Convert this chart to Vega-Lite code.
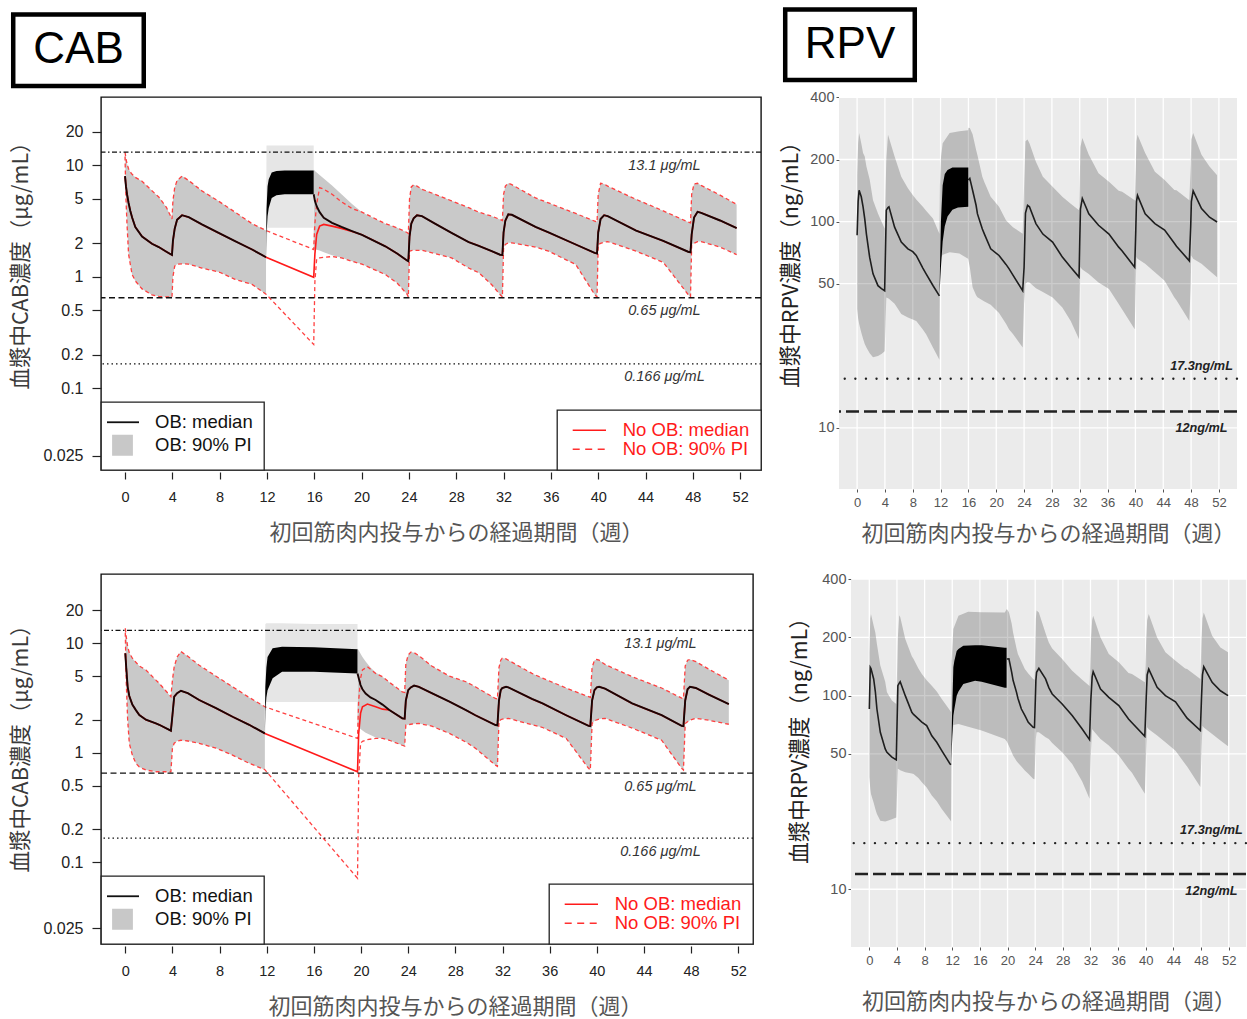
{
"$schema": "https://vega.github.io/schema/vega-lite/v6.json",
"background": "white",
"padding": {"left": 10, "top": 7, "right": 2, "bottom": 2},
"config": {"font": "Liberation Sans", "view": {"stroke": null}, "legend": {"strokeWidth": 1.3}, "axis": {"labelFont": "Liberation Sans", "titleFont": "Noto Sans CJK JP", "titleFontWeight": "normal", "labelOverlap": false}},
"datasets": {
"boxC": [{"t": "CAB"}],
"boxR": [{"t": "RPV"}],
"legA": [{"k": "OB: median"}, {"k": "OB: 90% PI"}],
"legB": [{"k": "No OB: median"}, {"k": "No OB: 90% PI"}],
"gx": [{"v":0},{"v":4},{"v":8},{"v":12},{"v":16},{"v":20},{"v":24},{"v":28},{"v":32},{"v":36},{"v":40},{"v":44},{"v":48},{"v":52}],
"gy": [{"v":10},{"v":50},{"v":100},{"v":200},{"v":400}],
"cabref": [{"v": 13.1, "t": "13.1 μg/mL", "k": "a"}, {"v": 0.65, "t": "0.65 μg/mL", "k": "b"}, {"v": 0.166, "t": "0.166 μg/mL", "k": "c"}],
"rpvref": [{"v": 17.3, "t": "17.3ng/mL", "k": "a"}, {"v": 12, "t": "12ng/mL", "k": "b"}],
"c1": [
{"w":0,"lo":12,"md":8.0,"hi":13.1,"g":"b","s":1},
{"w":0.08,"lo":5.0,"md":6.5,"hi":11.5,"g":"b","s":1},
{"w":0.17,"lo":2.95,"md":5.5,"hi":10.3,"g":"b","s":1},
{"w":0.3,"lo":1.6,"md":4.6,"hi":9.3,"g":"b","s":1},
{"w":0.45,"lo":1.29,"md":3.9,"hi":8.7,"g":"b","s":1},
{"w":0.6,"lo":1.05,"md":3.4,"hi":8.3,"g":"b","s":1},
{"w":0.87,"lo":0.92,"md":2.8,"hi":7.8,"g":"b","s":1},
{"w":1.44,"lo":0.78,"md":2.3,"hi":7.2,"g":"b","s":1},
{"w":2.28,"lo":0.69,"md":1.98,"hi":5.9,"g":"b","s":1},
{"w":2.85,"lo":0.67,"md":1.85,"hi":5.2,"g":"b","s":1},
{"w":3.5,"lo":0.66,"md":1.68,"hi":4.2,"g":"b","s":1},
{"w":3.97,"lo":0.66,"md":1.57,"hi":3.3,"g":"b","s":1},
{"w":4.05,"lo":1.0,"md":2.1,"hi":4.8,"g":"b","s":1},
{"w":4.2,"lo":1.25,"md":2.7,"hi":6.3,"g":"b","s":1},
{"w":4.4,"lo":1.3,"md":3.25,"hi":7.3,"g":"b","s":1},
{"w":4.82,"lo":1.31,"md":3.57,"hi":8.0,"g":"b","s":1},
{"w":5.38,"lo":1.3,"md":3.43,"hi":7.3,"g":"b","s":1},
{"w":6.5,"lo":1.2,"md":2.95,"hi":5.9,"g":"b","s":1},
{"w":8.0,"lo":1.1,"md":2.45,"hi":4.7,"g":"b","s":1},
{"w":9.3,"lo":0.95,"md":2.09,"hi":3.8,"g":"b","s":1},
{"w":10.74,"lo":0.855,"md":1.76,"hi":3.0,"g":"b","s":1},
{"w":11.92,"lo":0.7,"md":1.5,"hi":2.6,"g":"b","s":1},
{"w":15.95,"lo":0.248,"md":0.99,"hi":1.76,"g":"n","s":2},
{"w":16.05,"lo":0.9,"md":1.6,"hi":3.0,"g":"n","s":2},
{"w":16.2,"lo":1.45,"md":2.4,"hi":4.5,"g":"n","s":2},
{"w":16.45,"lo":1.48,"md":2.85,"hi":6.3,"g":"n","s":2},
{"w":16.8,"lo":1.5,"md":2.95,"hi":6.1,"g":"n","s":2},
{"w":17.5,"lo":1.52,"md":2.85,"hi":5.5,"g":"n","s":2},
{"w":18.3,"lo":1.48,"md":2.72,"hi":4.7,"g":"n","s":2},
{"w":19.19,"lo":1.38,"md":2.55,"hi":4.1,"g":"n","s":2},
{"w":15.95,"lo":1.8,"md":5.5,"hi":9.2,"g":"o","s":2},
{"w":16.05,"lo":1.78,"md":4.8,"hi":8.9,"g":"o","s":2},
{"w":16.2,"lo":1.75,"md":4.3,"hi":8.6,"g":"o","s":2},
{"w":16.45,"lo":1.72,"md":3.8,"hi":8.2,"g":"o","s":2},
{"w":16.8,"lo":1.66,"md":3.38,"hi":7.6,"g":"o","s":2},
{"w":17.5,"lo":1.56,"md":3.05,"hi":6.6,"g":"o","s":2},
{"w":18.3,"lo":1.48,"md":2.8,"hi":5.5,"g":"o","s":2},
{"w":19.19,"lo":1.38,"md":2.57,"hi":4.5,"g":"o","s":2},
{"w":20.03,"lo":1.3,"md":2.38,"hi":3.8,"g":"b","s":2},
{"w":22.0,"lo":1.05,"md":1.88,"hi":3.0,"g":"b","s":2},
{"w":23.0,"lo":0.88,"md":1.62,"hi":2.75,"g":"b","s":2},
{"w":23.84,"lo":0.7,"md":1.4,"hi":2.5,"g":"b","s":2},
{"w":23.95,"lo":0.66,"md":1.38,"hi":2.45,"g":"b","s":2},
{"w":24.05,"lo":1.7,"md":2.3,"hi":5.0,"g":"b","s":2},
{"w":24.2,"lo":1.72,"md":3.0,"hi":6.4,"g":"b","s":2},
{"w":24.4,"lo":1.73,"md":3.35,"hi":6.7,"g":"b","s":2},
{"w":24.68,"lo":1.73,"md":3.57,"hi":6.5,"g":"b","s":2},
{"w":25.1,"lo":1.73,"md":3.5,"hi":6.1,"g":"b","s":2},
{"w":26.2,"lo":1.62,"md":3.0,"hi":5.5,"g":"b","s":2},
{"w":27.6,"lo":1.48,"md":2.48,"hi":4.8,"g":"b","s":2},
{"w":29.05,"lo":1.2,"md":2.05,"hi":4.17,"g":"b","s":2},
{"w":29.9,"lo":1.09,"md":1.9,"hi":3.8,"g":"b","s":2},
{"w":31.0,"lo":0.85,"md":1.7,"hi":3.5,"g":"b","s":2},
{"w":31.7,"lo":0.695,"md":1.58,"hi":3.27,"g":"b","s":2},
{"w":31.9,"lo":0.66,"md":1.57,"hi":3.2,"g":"b","s":2},
{"w":32.0,"lo":1.82,"md":2.5,"hi":5.5,"g":"b","s":2},
{"w":32.15,"lo":1.95,"md":3.19,"hi":6.5,"g":"b","s":2},
{"w":32.4,"lo":2.02,"md":3.63,"hi":6.9,"g":"b","s":2},
{"w":32.7,"lo":2.02,"md":3.6,"hi":6.7,"g":"b","s":2},
{"w":34.7,"lo":1.85,"md":2.8,"hi":5.1,"g":"b","s":2},
{"w":35.8,"lo":1.7,"md":2.5,"hi":4.6,"g":"b","s":2},
{"w":38.1,"lo":1.29,"md":1.95,"hi":3.7,"g":"b","s":2},
{"w":39.7,"lo":0.695,"md":1.64,"hi":3.16,"g":"b","s":2},
{"w":39.9,"lo":0.66,"md":1.62,"hi":3.1,"g":"b","s":2},
{"w":40.0,"lo":1.92,"md":2.5,"hi":5.5,"g":"b","s":2},
{"w":40.2,"lo":2.0,"md":3.3,"hi":6.9,"g":"b","s":2},
{"w":40.5,"lo":2.05,"md":3.57,"hi":6.8,"g":"b","s":2},
{"w":40.8,"lo":2.07,"md":3.5,"hi":6.5,"g":"b","s":2},
{"w":43.2,"lo":1.7,"md":2.6,"hi":4.95,"g":"b","s":2},
{"w":45.5,"lo":1.35,"md":2.1,"hi":3.9,"g":"b","s":2},
{"w":47.6,"lo":0.695,"md":1.68,"hi":3.1,"g":"b","s":2},
{"w":47.8,"lo":0.66,"md":1.66,"hi":3.05,"g":"b","s":2},
{"w":47.9,"lo":1.95,"md":2.4,"hi":5.5,"g":"b","s":2},
{"w":48.1,"lo":2.0,"md":3.4,"hi":6.8,"g":"b","s":2},
{"w":48.4,"lo":2.07,"md":3.83,"hi":6.9,"g":"b","s":2},
{"w":48.7,"lo":2.07,"md":3.75,"hi":6.6,"g":"b","s":2},
{"w":50.3,"lo":1.85,"md":3.2,"hi":5.4,"g":"b","s":2},
{"w":51.7,"lo":1.58,"md":2.74,"hi":4.46,"g":"b","s":2}
],
"c1o": [
{"w":11.92,"blo":1.5,"bhi":1.5,"plo":1.5,"phi":1.6},
{"w":11.96,"blo":2.4,"bhi":4.0,"plo":1.6,"phi":15},
{"w":12.05,"blo":3.5,"bhi":6.5,"plo":2.75,"phi":15},
{"w":12.15,"blo":4.15,"bhi":7.5,"plo":2.75,"phi":15},
{"w":12.4,"blo":5.1,"bhi":8.6,"plo":2.75,"phi":15},
{"w":12.8,"blo":5.4,"bhi":8.9,"plo":2.75,"phi":15},
{"w":13.5,"blo":5.5,"bhi":9.0,"plo":2.75,"phi":15},
{"w":15.95,"blo":5.5,"bhi":9.0,"plo":2.75,"phi":15}
],
"c2": [
{"w":0,"lo":12.5,"md":8.1,"hi":13.7,"g":"b","s":1},
{"w":0.08,"lo":4.5,"md":6.0,"hi":11.5,"g":"b","s":1},
{"w":0.2,"lo":2.0,"md":4.0,"hi":9.3,"g":"b","s":1},
{"w":0.34,"lo":1.22,"md":3.3,"hi":8.2,"g":"b","s":1},
{"w":0.6,"lo":0.95,"md":2.75,"hi":7.3,"g":"b","s":1},
{"w":0.9,"lo":0.8,"md":2.45,"hi":6.7,"g":"b","s":1},
{"w":1.19,"lo":0.74,"md":2.21,"hi":6.2,"g":"b","s":1},
{"w":1.75,"lo":0.695,"md":2.0,"hi":5.7,"g":"b","s":1},
{"w":2.6,"lo":0.67,"md":1.85,"hi":4.6,"g":"b","s":1},
{"w":2.88,"lo":0.67,"md":1.8,"hi":4.3,"g":"b","s":1},
{"w":3.87,"lo":0.67,"md":1.59,"hi":3.25,"g":"b","s":1},
{"w":4.0,"lo":1.1,"md":2.2,"hi":4.6,"g":"b","s":1},
{"w":4.15,"lo":1.22,"md":3.25,"hi":6.1,"g":"b","s":1},
{"w":4.4,"lo":1.28,"md":3.5,"hi":7.5,"g":"b","s":1},
{"w":4.72,"lo":1.3,"md":3.68,"hi":8.4,"g":"b","s":1},
{"w":5.3,"lo":1.28,"md":3.5,"hi":7.6,"g":"b","s":1},
{"w":6.27,"lo":1.22,"md":3.03,"hi":6.3,"g":"b","s":1},
{"w":7.7,"lo":1.1,"md":2.55,"hi":5.0,"g":"b","s":1},
{"w":9.1,"lo":0.95,"md":2.13,"hi":4.0,"g":"b","s":1},
{"w":10.51,"lo":0.8,"md":1.8,"hi":3.2,"g":"b","s":1},
{"w":11.84,"lo":0.7,"md":1.5,"hi":2.63,"g":"b","s":1},
{"w":19.7,"lo":0.0713,"md":0.67,"hi":1.35,"g":"n","s":2},
{"w":19.8,"lo":0.6,"md":1.5,"hi":3.0,"g":"n","s":2},
{"w":19.96,"lo":1.22,"md":2.3,"hi":4.8,"g":"n","s":2},
{"w":20.12,"lo":1.27,"md":2.63,"hi":5.7,"g":"n","s":2},
{"w":20.54,"lo":1.32,"md":2.78,"hi":6.1,"g":"n","s":2},
{"w":21.24,"lo":1.35,"md":2.63,"hi":5.3,"g":"n","s":2},
{"w":21.82,"lo":1.35,"md":2.5,"hi":4.94,"g":"n","s":2},
{"w":19.7,"lo":1.75,"md":5.3,"hi":9.0,"g":"o","s":2},
{"w":19.96,"lo":1.65,"md":4.15,"hi":8.0,"g":"o","s":2},
{"w":20.12,"lo":1.6,"md":3.8,"hi":7.5,"g":"o","s":2},
{"w":20.39,"lo":1.52,"md":3.47,"hi":6.8,"g":"o","s":2},
{"w":20.8,"lo":1.45,"md":3.2,"hi":6.0,"g":"o","s":2},
{"w":21.24,"lo":1.38,"md":3.03,"hi":5.4,"g":"o","s":2},
{"w":21.82,"lo":1.35,"md":2.75,"hi":4.94,"g":"o","s":2},
{"w":22.4,"lo":1.3,"md":2.46,"hi":4.4,"g":"b","s":2},
{"w":23.5,"lo":1.17,"md":2.06,"hi":3.6,"g":"b","s":2},
{"w":23.7,"lo":1.15,"md":2.05,"hi":3.55,"g":"b","s":2},
{"w":23.8,"lo":1.79,"md":3.0,"hi":6.5,"g":"b","s":2},
{"w":24.0,"lo":1.8,"md":3.73,"hi":7.8,"g":"b","s":2},
{"w":24.22,"lo":1.82,"md":3.95,"hi":8.3,"g":"b","s":2},
{"w":24.5,"lo":1.84,"md":4.1,"hi":8.2,"g":"b","s":2},
{"w":24.9,"lo":1.85,"md":4.0,"hi":7.7,"g":"b","s":2},
{"w":26.0,"lo":1.75,"md":3.5,"hi":6.2,"g":"b","s":2},
{"w":27.5,"lo":1.5,"md":2.93,"hi":5.0,"g":"b","s":2},
{"w":28.9,"lo":1.25,"md":2.45,"hi":4.45,"g":"b","s":2},
{"w":29.7,"lo":1.1,"md":2.2,"hi":4.0,"g":"b","s":2},
{"w":31.4,"lo":0.77,"md":1.79,"hi":3.13,"g":"b","s":2},
{"w":31.57,"lo":0.75,"md":1.78,"hi":3.1,"g":"b","s":2},
{"w":31.7,"lo":1.92,"md":3.0,"hi":6.0,"g":"b","s":2},
{"w":31.85,"lo":2.0,"md":3.73,"hi":7.0,"g":"b","s":2},
{"w":31.98,"lo":2.03,"md":3.9,"hi":7.3,"g":"b","s":2},
{"w":32.3,"lo":2.05,"md":4.0,"hi":7.2,"g":"b","s":2},
{"w":32.5,"lo":2.06,"md":3.95,"hi":7.0,"g":"b","s":2},
{"w":34.5,"lo":1.8,"md":3.1,"hi":5.3,"g":"b","s":2},
{"w":35.4,"lo":1.7,"md":2.82,"hi":4.8,"g":"b","s":2},
{"w":37.4,"lo":1.35,"md":2.2,"hi":3.9,"g":"b","s":2},
{"w":39.3,"lo":0.72,"md":1.76,"hi":3.25,"g":"b","s":2},
{"w":39.45,"lo":0.695,"md":1.75,"hi":3.2,"g":"b","s":2},
{"w":39.6,"lo":1.85,"md":3.0,"hi":6.0,"g":"b","s":2},
{"w":39.8,"lo":1.95,"md":3.73,"hi":7.0,"g":"b","s":2},
{"w":40.0,"lo":2.0,"md":3.95,"hi":7.1,"g":"b","s":2},
{"w":40.2,"lo":2.03,"md":4.0,"hi":7.0,"g":"b","s":2},
{"w":40.7,"lo":2.06,"md":3.85,"hi":6.4,"g":"b","s":2},
{"w":43.0,"lo":1.68,"md":2.82,"hi":4.95,"g":"b","s":2},
{"w":45.5,"lo":1.3,"md":2.2,"hi":3.9,"g":"b","s":2},
{"w":47.2,"lo":0.72,"md":1.76,"hi":3.15,"g":"b","s":2},
{"w":47.35,"lo":0.695,"md":1.75,"hi":3.13,"g":"b","s":2},
{"w":47.5,"lo":1.85,"md":3.0,"hi":6.2,"g":"b","s":2},
{"w":47.7,"lo":1.92,"md":3.8,"hi":7.0,"g":"b","s":2},
{"w":47.9,"lo":1.98,"md":4.0,"hi":7.1,"g":"b","s":2},
{"w":48.4,"lo":2.06,"md":3.9,"hi":6.8,"g":"b","s":2},
{"w":49.5,"lo":1.98,"md":3.4,"hi":5.8,"g":"b","s":2},
{"w":51.2,"lo":1.82,"md":2.78,"hi":4.6,"g":"b","s":2}
],
"c2o": [
{"w":11.84,"blo":1.5,"bhi":1.5,"plo":1.5,"phi":1.6},
{"w":11.88,"blo":2.4,"bhi":4.0,"plo":1.6,"phi":15},
{"w":11.97,"blo":3.2,"bhi":6.0,"plo":2.9,"phi":15.2},
{"w":12.07,"blo":3.73,"bhi":7.5,"plo":2.9,"phi":15.2},
{"w":12.5,"blo":4.8,"bhi":9.0,"plo":2.9,"phi":15.2},
{"w":13.3,"blo":5.5,"bhi":9.3,"plo":2.9,"phi":15.2},
{"w":16.0,"blo":5.5,"bhi":9.2,"plo":2.9,"phi":15},
{"w":19.7,"blo":5.3,"bhi":8.8,"plo":2.9,"phi":15}
],
"r1": [
{"w":0.0,"lo":37.8,"md":85.8,"hi":168,"s":1},
{"w":0.15,"lo":34,"md":125,"hi":240,"s":1},
{"w":0.29,"lo":32,"md":142,"hi":269,"s":1},
{"w":0.6,"lo":29,"md":132,"hi":240,"s":1},
{"w":0.86,"lo":27,"md":118,"hi":215,"s":1},
{"w":1.1,"lo":25.5,"md":103,"hi":207,"s":1},
{"w":1.34,"lo":24.5,"md":87,"hi":185,"s":1},
{"w":1.81,"lo":23,"md":67,"hi":160,"s":1},
{"w":2.29,"lo":22,"md":55.8,"hi":127,"s":1},
{"w":3.0,"lo":22.3,"md":48.9,"hi":109.4,"s":1},
{"w":3.5,"lo":22.8,"md":47.3,"hi":100,"s":1},
{"w":3.96,"lo":23.5,"md":46.2,"hi":92.5,"s":1},
{"w":4.2,"lo":42.8,"md":113.6,"hi":200,"s":1},
{"w":4.44,"lo":42.5,"md":117,"hi":264,"s":1},
{"w":4.58,"lo":42.2,"md":118,"hi":255,"s":1},
{"w":5.39,"lo":40,"md":94,"hi":207,"s":1},
{"w":6.35,"lo":35.6,"md":79.5,"hi":165,"s":1},
{"w":7.3,"lo":34.3,"md":73.7,"hi":145,"s":1},
{"w":8.0,"lo":33.5,"md":71.5,"hi":134.6,"s":1},
{"w":8.5,"lo":33,"md":68.5,"hi":128,"s":1},
{"w":9.45,"lo":30,"md":59.5,"hi":118,"s":1},
{"w":9.92,"lo":28.4,"md":55.8,"hi":113,"s":1},
{"w":10.9,"lo":24.5,"md":49,"hi":103.4,"s":1},
{"w":11.83,"lo":21.4,"md":43.6,"hi":87.4,"s":1},
{"w":11.9,"lo":60,"hi":150,"s":0},
{"w":12.07,"lo":67.3,"hi":207,"s":0},
{"w":12.3,"lo":69,"hi":240,"s":0},
{"w":13.3,"lo":71,"hi":269,"s":0},
{"w":14.7,"lo":70,"hi":274,"s":0},
{"w":15.95,"lo":66,"hi":277,"s":0},
{"w":16.0,"lo":65,"md":159,"hi":285,"s":2},
{"w":16.2,"lo":60,"md":162,"hi":284,"s":2},
{"w":16.6,"lo":48,"md":142,"hi":265,"s":2},
{"w":17.1,"lo":44,"md":120,"hi":223,"s":2},
{"w":17.3,"lo":43,"md":109,"hi":210,"s":2},
{"w":18.0,"lo":41.5,"md":92,"hi":165,"s":2},
{"w":18.3,"lo":41,"md":87,"hi":155,"s":2},
{"w":19.2,"lo":39.5,"md":73.8,"hi":132,"s":2},
{"w":20.4,"lo":36,"md":68.5,"hi":118,"s":2},
{"w":21.4,"lo":32,"md":62,"hi":101.5,"s":2},
{"w":21.85,"lo":30,"md":59,"hi":98,"s":2},
{"w":22.4,"lo":28.5,"md":55,"hi":94,"s":2},
{"w":23.8,"lo":24.5,"md":46.2,"hi":87.4,"s":2},
{"w":24.0,"lo":40,"md":60,"hi":150,"s":2},
{"w":24.2,"lo":50,"md":110,"hi":245,"s":2},
{"w":24.5,"lo":51,"md":120,"hi":250,"s":2},
{"w":24.77,"lo":50.7,"md":118,"hi":240,"s":2},
{"w":25.7,"lo":47.5,"md":97.8,"hi":195,"s":2},
{"w":26.7,"lo":45.5,"md":87,"hi":165,"s":2},
{"w":28.1,"lo":42.9,"md":79.5,"hi":147.6,"s":2},
{"w":29.5,"lo":38.3,"md":67.3,"hi":132,"s":2},
{"w":30.7,"lo":33,"md":60,"hi":122,"s":2},
{"w":31.9,"lo":26.9,"md":53.8,"hi":113.6,"s":2},
{"w":32.0,"lo":40,"md":80,"hi":160,"s":2},
{"w":32.1,"lo":60,"md":115,"hi":230,"s":2},
{"w":32.37,"lo":58.5,"md":129.5,"hi":254,"s":2},
{"w":33.3,"lo":55.7,"md":109,"hi":211,"s":2},
{"w":34.7,"lo":50.7,"md":96,"hi":171.5,"s":2},
{"w":36.2,"lo":47.1,"md":87,"hi":156,"s":2},
{"w":37.6,"lo":39.8,"md":75.2,"hi":141,"s":2},
{"w":38.1,"lo":37.5,"md":72,"hi":139.6,"s":2},
{"w":39.9,"lo":30.1,"md":60,"hi":127,"s":2},
{"w":40.05,"lo":50,"md":90,"hi":180,"s":2},
{"w":40.15,"lo":67.3,"md":125,"hi":245,"s":2},
{"w":40.3,"lo":66,"md":134,"hi":264,"s":2},
{"w":41.4,"lo":62.4,"md":109,"hi":215,"s":2},
{"w":42.8,"lo":56.8,"md":97.8,"hi":174.7,"s":2},
{"w":44.2,"lo":51.7,"md":91,"hi":159,"s":2},
{"w":45.6,"lo":42.9,"md":78.5,"hi":142.5,"s":2},
{"w":45.9,"lo":41.5,"md":76,"hi":142,"s":2},
{"w":47.75,"lo":33,"md":64.5,"hi":127,"s":2},
{"w":47.95,"lo":50,"md":95,"hi":190,"s":2},
{"w":48.04,"lo":68.5,"md":125,"hi":250,"s":2},
{"w":48.3,"lo":66,"md":141,"hi":269,"s":2},
{"w":49.5,"lo":62.4,"md":115.7,"hi":211,"s":2},
{"w":50.65,"lo":57.8,"md":105,"hi":185,"s":2},
{"w":51.74,"lo":53.7,"md":99.6,"hi":168,"s":2}
],
"r1o": [
{"w":11.83,"blo":43.6,"bhi":43.6},
{"w":11.95,"blo":52,"bhi":70},
{"w":12.05,"blo":60,"bhi":100},
{"w":12.3,"blo":80,"bhi":150},
{"w":12.6,"blo":95,"bhi":170},
{"w":13.0,"blo":106,"bhi":178},
{"w":13.7,"blo":114,"bhi":183},
{"w":14.5,"blo":117,"bhi":183},
{"w":15.98,"blo":118,"bhi":183}
],
"r2": [
{"w":0.0,"lo":38,"md":85.3,"hi":167,"s":1},
{"w":0.14,"lo":33,"md":140,"hi":250,"s":1},
{"w":0.24,"lo":31,"md":138,"hi":264,"s":1},
{"w":0.63,"lo":28,"md":122,"hi":230,"s":1},
{"w":0.87,"lo":26,"md":105,"hi":212,"s":1},
{"w":1.1,"lo":24.5,"md":85.3,"hi":185,"s":1},
{"w":1.59,"lo":22.6,"md":64.7,"hi":143,"s":1},
{"w":2.3,"lo":22.4,"md":53.1,"hi":118,"s":1},
{"w":2.55,"lo":22.5,"md":51,"hi":104,"s":1},
{"w":3.27,"lo":23,"md":48.1,"hi":94.3,"s":1},
{"w":3.9,"lo":23.5,"md":46.6,"hi":90.6,"s":1},
{"w":4.13,"lo":41.9,"md":112.6,"hi":200,"s":1},
{"w":4.33,"lo":41.5,"md":116,"hi":260,"s":1},
{"w":4.47,"lo":41.2,"md":118,"hi":255,"s":1},
{"w":5.2,"lo":40.2,"md":100,"hi":196,"s":1},
{"w":6.15,"lo":39.6,"md":82,"hi":160,"s":1},
{"w":6.4,"lo":39.4,"md":80,"hi":154.6,"s":1},
{"w":7.1,"lo":37.5,"md":75.8,"hi":138,"s":1},
{"w":7.6,"lo":35.7,"md":73,"hi":129.3,"s":1},
{"w":8.3,"lo":33.5,"md":70,"hi":120,"s":1},
{"w":9.04,"lo":30.5,"md":62,"hi":112.6,"s":1},
{"w":9.76,"lo":28.5,"md":57.4,"hi":105,"s":1},
{"w":10.48,"lo":26,"md":52,"hi":96.1,"s":1},
{"w":11.68,"lo":22.8,"md":44.4,"hi":83.7,"s":1},
{"w":11.83,"lo":22.4,"md":44,"hi":82,"s":1},
{"w":11.9,"lo":60,"hi":150,"s":0},
{"w":12.16,"lo":70.5,"hi":221,"s":0},
{"w":12.9,"lo":71.4,"hi":259,"s":0},
{"w":14.3,"lo":69,"hi":271,"s":0},
{"w":16.25,"lo":66,"hi":270,"s":0},
{"w":19.6,"lo":59.7,"hi":269,"s":0},
{"w":19.9,"lo":58,"md":154.6,"hi":280,"s":2},
{"w":20.2,"lo":55,"md":155,"hi":270,"s":2},
{"w":20.6,"lo":51,"md":132,"hi":235,"s":2},
{"w":20.8,"lo":49,"md":120,"hi":212,"s":2},
{"w":21.3,"lo":46,"md":104,"hi":175,"s":2},
{"w":21.5,"lo":45,"md":97,"hi":164,"s":2},
{"w":22.0,"lo":43,"md":85.3,"hi":150,"s":2},
{"w":22.5,"lo":41,"md":79,"hi":137.4,"s":2},
{"w":23.0,"lo":39.5,"md":72.8,"hi":130,"s":2},
{"w":23.7,"lo":37.2,"md":68.7,"hi":122,"s":2},
{"w":23.9,"lo":37,"md":68.5,"hi":121,"s":2},
{"w":24.1,"lo":60,"md":120,"hi":250,"s":2},
{"w":24.2,"lo":64.7,"md":132,"hi":275,"s":2},
{"w":24.53,"lo":64.7,"md":138.4,"hi":269,"s":2},
{"w":25.5,"lo":61,"md":122,"hi":210,"s":2},
{"w":25.97,"lo":59.7,"md":110,"hi":188,"s":2},
{"w":26.46,"lo":57,"md":102,"hi":175,"s":2},
{"w":27.9,"lo":51,"md":90.6,"hi":154.6,"s":2},
{"w":29.35,"lo":44.4,"md":78.9,"hi":134.6,"s":2},
{"w":30.8,"lo":36,"md":67.3,"hi":121,"s":2},
{"w":31.86,"lo":29.3,"md":59.3,"hi":112,"s":2},
{"w":32.05,"lo":50,"md":95,"hi":190,"s":2},
{"w":32.24,"lo":67.3,"md":125,"hi":245,"s":2},
{"w":32.39,"lo":66,"md":133,"hi":259,"s":2},
{"w":33.45,"lo":59.7,"md":108.2,"hi":200,"s":2},
{"w":34.65,"lo":55.2,"md":98,"hi":164,"s":2},
{"w":36.1,"lo":49,"md":88.8,"hi":148.6,"s":2},
{"w":37.5,"lo":41.9,"md":75.8,"hi":131,"s":2},
{"w":38.0,"lo":40,"md":72.5,"hi":129.3,"s":2},
{"w":39.86,"lo":31.1,"md":61.7,"hi":117.2,"s":2},
{"w":40.05,"lo":50,"md":95,"hi":190,"s":2},
{"w":40.2,"lo":68.7,"md":128,"hi":245,"s":2},
{"w":40.43,"lo":67,"md":137,"hi":264,"s":2},
{"w":41.64,"lo":62.2,"md":110.4,"hi":200,"s":2},
{"w":42.84,"lo":57.4,"md":100,"hi":167.4,"s":2},
{"w":44.3,"lo":52,"md":93,"hi":151.6,"s":2},
{"w":45.7,"lo":44.4,"md":78.9,"hi":138,"s":2},
{"w":45.98,"lo":43,"md":76.5,"hi":137.4,"s":2},
{"w":47.9,"lo":33.7,"md":66,"hi":122,"s":2},
{"w":48.05,"lo":50,"md":95,"hi":190,"s":2},
{"w":48.2,"lo":70,"md":128,"hi":250,"s":2},
{"w":48.39,"lo":68.5,"md":141,"hi":269,"s":2},
{"w":49.6,"lo":63.4,"md":117.2,"hi":204,"s":2},
{"w":50.8,"lo":58.6,"md":106,"hi":177.4,"s":2},
{"w":51.9,"lo":54.8,"md":100,"hi":167.4,"s":2}
],
"r2o": [
{"w":11.83,"blo":44,"bhi":44},
{"w":11.95,"blo":55,"bhi":75},
{"w":12.16,"blo":78.9,"bhi":140},
{"w":12.3,"blo":85,"bhi":151},
{"w":12.64,"blo":100,"bhi":170},
{"w":12.9,"blo":105,"bhi":174},
{"w":13.6,"blo":115,"bhi":181},
{"w":15.3,"blo":119.5,"bhi":182},
{"w":16.25,"blo":118,"bhi":182},
{"w":19.6,"blo":110,"bhi":177},
{"w":19.86,"blo":110,"bhi":177}
]
},
"resolve": {"scale": {"fill": "independent", "stroke": "independent", "shape": "independent", "strokeDash": "independent"}, "legend": {"fill": "independent", "stroke": "independent", "shape": "independent", "strokeDash": "independent"}},
"spacing": 26,
"vconcat": [
{"hconcat": [
  {"width": 660, "height": 373, "view": {"stroke": "#111", "strokeWidth": 1.4, "fill": "white"},
   "resolve": {"scale": {"fill": "independent", "stroke": "independent", "shape": "independent", "strokeDash": "independent"}, "legend": {"fill": "independent", "stroke": "independent", "shape": "independent", "strokeDash": "independent"}},
   "layer": [
    {"data": {"name": "c1"}, "transform": [{"filter": "datum.g != 'n'"}], "mark": {"type": "area", "color": "#c9c9c9", "clip": true},
     "encoding": {
      "x": {"field": "w", "type": "quantitative", "scale": {"domain": [-2.03, 53.76], "nice": false, "zero": false},
        "axis": {"values": [0,4,8,12,16,20,24,28,32,36,40,44,48,52], "tickCount": 20, "title": "初回筋肉内投与からの経過期間（週）", "domain": false, "grid": false, "tickColor": "#222", "tickSize": 7, "tickWidth": 1.2, "offset": 2, "labelFontSize": 14.5, "labelColor": "#222", "labelPadding": 11, "labelOverlap": false, "titleFontSize": 22, "titleColor": "#555", "titlePadding": 19, "titleX": 355}},
      "y": {"field": "lo", "type": "quantitative", "scale": {"type": "log", "domain": [0.0186, 40.9], "nice": false},
        "axis": {"values": [0.025,0.1,0.2,0.5,1,2,5,10,20], "format": "~g", "title": "血漿中CAB濃度（μg/mL）", "domain": false, "grid": false, "tickColor": "#222", "tickSize": 9, "tickWidth": 1.2, "labelFontSize": 16, "labelColor": "#222", "labelPadding": 9, "titleFontSize": 21.5, "titleColor": "#3a3a3a", "titlePadding": 10, "titleY": 163}},
      "y2": {"field": "hi"},
      "detail": {"field": "s", "type": "nominal"}}},
    {"data": {"name": "c1o"}, "mark": {"type": "area", "color": "#e6e6e6"}, "encoding": {"x": {"field": "w", "type": "quantitative"}, "y": {"field": "plo", "type": "quantitative"}, "y2": {"field": "phi"}}},
    {"data": {"name": "c1"}, "transform": [{"filter": "datum.g != 'o'"}], "mark": {"type": "line", "color": "#ff4040", "strokeDash": [4, 3], "strokeWidth": 1.3, "clip": true}, "encoding": {"x": {"field": "w", "type": "quantitative"}, "y": {"field": "lo", "type": "quantitative"}}},
    {"data": {"name": "c1"}, "transform": [{"filter": "datum.g != 'o'"}], "mark": {"type": "line", "color": "#ff4040", "strokeDash": [4, 3], "strokeWidth": 1.3, "clip": true}, "encoding": {"x": {"field": "w", "type": "quantitative"}, "y": {"field": "hi", "type": "quantitative"}}},
    {"data": {"name": "c1"}, "transform": [{"filter": "datum.g != 'o'"}], "mark": {"type": "line", "color": "#ff1a1a", "strokeWidth": 1.6}, "encoding": {"x": {"field": "w", "type": "quantitative"}, "y": {"field": "md", "type": "quantitative"}}},
    {"data": {"name": "c1"}, "transform": [{"filter": "datum.g != 'n'"}], "mark": {"type": "line", "color": "#1a0505", "strokeWidth": 1.9}, "encoding": {"x": {"field": "w", "type": "quantitative"}, "y": {"field": "md", "type": "quantitative"}, "detail": {"field": "s", "type": "nominal"}}},
    {"data": {"name": "c1o"}, "mark": {"type": "area", "color": "black"}, "encoding": {"x": {"field": "w", "type": "quantitative"}, "y": {"field": "blo", "type": "quantitative"}, "y2": {"field": "bhi"}}},
    {"data": {"name": "cabref"}, "transform": [{"filter": "datum.k == 'a'"}], "mark": {"type": "rule", "color": "#111", "strokeWidth": 1.3, "strokeDash": [5, 2.5, 1.5, 2.5]}, "encoding": {"y": {"field": "v", "type": "quantitative"}}},
    {"data": {"name": "cabref"}, "transform": [{"filter": "datum.k == 'b'"}], "mark": {"type": "rule", "color": "#111", "strokeWidth": 1.3, "strokeDash": [6, 3.5]}, "encoding": {"y": {"field": "v", "type": "quantitative"}}},
    {"data": {"name": "cabref"}, "transform": [{"filter": "datum.k == 'c'"}], "mark": {"type": "rule", "color": "#111", "strokeWidth": 1.3, "strokeDash": [1.5, 3]}, "encoding": {"y": {"field": "v", "type": "quantitative"}}},
    {"data": {"name": "cabref"}, "mark": {"type": "text", "dy": 13.5, "fontStyle": "italic", "fontSize": 14.5, "color": "#333", "font": "Liberation Sans"}, "encoding": {"x": {"datum": 45.6, "type": "quantitative"}, "y": {"field": "v", "type": "quantitative"}, "text": {"field": "t"}}},
    {"data": {"name": "boxC"}, "mark": {"type": "rect", "filled": false, "stroke": "black", "strokeWidth": 4.5}, "encoding": {"x": {"datum": -9.45, "type": "quantitative"}, "x2": {"datum": 1.584}, "y": {"datum": 224, "type": "quantitative"}, "y2": {"datum": 51.3}}},
    {"data": {"name": "boxC"}, "mark": {"type": "text", "fontSize": 44, "font": "Liberation Sans", "color": "black"}, "encoding": {"x": {"datum": -3.93, "type": "quantitative"}, "y": {"datum": 107.2, "type": "quantitative"}, "text": {"field": "t"}}},
    {"data": {"name": "legA"}, "transform": [{"filter": "false"}], "mark": {"type": "point", "filled": true, "opacity": 1},
     "encoding": {
      "fill": {"field": "k", "type": "nominal", "scale": {"domain": ["OB: median", "OB: 90% PI"], "range": ["transparent", "#c8c8c8"]}, "legend": {"orient": "bottom-left", "offset": 0, "title": null, "padding": 11, "rowPadding": 0, "strokeColor": "#222", "fillColor": "white", "symbolSize": 100, "symbolStrokeWidth": 1.8, "labelFontSize": 18.5, "labelColor": "#111", "labelOffset": 24.5, "labelFont": "Liberation Sans", "cornerRadius": 0, "labelLimit": 300}},
      "stroke": {"field": "k", "type": "nominal", "scale": {"domain": ["OB: median", "OB: 90% PI"], "range": ["#111", "#c8c8c8"]}, "legend": {"orient": "bottom-left", "offset": 0, "title": null, "padding": 11, "rowPadding": 0, "strokeColor": "#222", "fillColor": "white", "symbolSize": 100, "symbolStrokeWidth": 1.8, "labelFontSize": 18.5, "labelColor": "#111", "labelOffset": 24.5, "labelFont": "Liberation Sans", "cornerRadius": 0, "labelLimit": 300}},
      "shape": {"field": "k", "type": "nominal", "scale": {"domain": ["OB: median", "OB: 90% PI"], "range": ["M-2.85,0H3.55", "M-1.65,-1.9H2.15V1.9H-1.65Z"]}, "legend": {"orient": "bottom-left", "offset": 0, "title": null, "padding": 11, "rowPadding": 0, "strokeColor": "#222", "fillColor": "white", "symbolSize": 100, "symbolStrokeWidth": 1.8, "labelFontSize": 18.5, "labelColor": "#111", "labelOffset": 24.5, "labelFont": "Liberation Sans", "cornerRadius": 0, "labelLimit": 300}}}},
    {"data": {"name": "legB"}, "transform": [{"filter": "false"}], "mark": {"type": "point", "filled": false, "opacity": 1},
     "encoding": {
      "stroke": {"field": "k", "type": "nominal", "scale": {"domain": ["No OB: median", "No OB: 90% PI"], "range": ["#ff1a1a", "#ff3030"]}, "legend": {"orient": "bottom-right", "offset": 0, "title": null, "padding": 11, "rowPadding": 0, "strokeColor": "#222", "fillColor": "white", "symbolSize": 100, "symbolType": "M-0.91,0H5.75", "symbolStrokeWidth": 1.6, "labelFontSize": 18.5, "labelColor": "#ff1a1a", "labelOffset": 36.2, "labelFont": "Liberation Sans", "cornerRadius": 0, "labelLimit": 300}},
      "strokeDash": {"field": "k", "type": "nominal", "scale": {"domain": ["No OB: median", "No OB: 90% PI"], "range": [[1, 0], [7, 5.5]]}, "legend": {"orient": "bottom-right", "offset": 0, "title": null, "padding": 11, "rowPadding": 0, "strokeColor": "#222", "fillColor": "white", "symbolSize": 100, "symbolType": "M-0.91,0H5.75", "symbolStrokeWidth": 1.6, "labelFontSize": 18.5, "labelColor": "#ff1a1a", "labelOffset": 36.2, "labelFont": "Liberation Sans", "cornerRadius": 0, "labelLimit": 300}}}}
   ]},
  {"width": 398, "height": 392, "view": {"fill": "#ebebeb", "stroke": null},
   "layer": [
    {"data": {"name": "gx"}, "mark": {"type": "rule", "color": "white", "strokeWidth": 1.3},
     "encoding": {"x": {"field": "v", "type": "quantitative", "scale": {"domain": [-2.6, 54.6], "nice": false, "zero": false},
        "axis": {"values": [0,4,8,12,16,20,24,28,32,36,40,44,48,52], "tickCount": 20, "title": "初回筋肉内投与からの経過期間（週）", "domain": false, "grid": false, "tickColor": "#555", "tickSize": 3, "labelFontSize": 13, "labelColor": "#555", "labelPadding": 4, "labelOverlap": false, "labelFlush": false, "titleFontSize": 22, "titleColor": "#555", "titlePadding": 14, "titleX": 209}}}},
    {"data": {"name": "gy"}, "mark": {"type": "rule", "color": "white", "strokeWidth": 1.3},
     "encoding": {"y": {"field": "v", "type": "quantitative", "scale": {"type": "log", "domain": [5.05, 402], "nice": false},
        "axis": {"values": [10, 50, 100, 200, 400], "domain": false, "grid": false, "tickColor": "#555", "tickSize": 3, "labelFontSize": 14.5, "labelColor": "#555", "labelPadding": 2, "title": "血漿中RPV濃度（ng/mL）", "titleFontSize": 21.5, "titleColor": "#222", "titlePadding": 7, "titleY": 162}}}},
    {"data": {"name": "r1"}, "mark": {"type": "area", "color": "black", "opacity": 0.2}, "encoding": {"x": {"field": "w", "type": "quantitative"}, "y": {"field": "lo", "type": "quantitative"}, "y2": {"field": "hi"}}},
    {"data": {"name": "r1"}, "transform": [{"filter": "isValid(datum.md)"}], "mark": {"type": "line", "color": "#1e1e1e", "strokeWidth": 1.6}, "encoding": {"x": {"field": "w", "type": "quantitative"}, "y": {"field": "md", "type": "quantitative"}, "detail": {"field": "s", "type": "nominal"}}},
    {"data": {"name": "r1o"}, "mark": {"type": "area", "color": "black"}, "encoding": {"x": {"field": "w", "type": "quantitative"}, "y": {"field": "blo", "type": "quantitative"}, "y2": {"field": "bhi"}}},
    {"data": {"name": "rpvref"}, "transform": [{"filter": "datum.k == 'a'"}], "mark": {"type": "rule", "color": "#222", "strokeWidth": 2.3, "strokeDash": [0.1, 10.5], "strokeCap": "round"}, "encoding": {"y": {"field": "v", "type": "quantitative"}}},
    {"data": {"name": "rpvref"}, "transform": [{"filter": "datum.k == 'b'"}], "mark": {"type": "rule", "color": "#222", "strokeWidth": 2.5, "strokeDash": [13, 5]}, "encoding": {"y": {"field": "v", "type": "quantitative"}}},
    {"data": {"name": "rpvref"}, "transform": [{"filter": "datum.k == 'a'"}], "mark": {"type": "text", "dy": -13, "fontStyle": "italic", "fontWeight": "bold", "fontSize": 12.7, "color": "#222", "font": "Liberation Sans"}, "encoding": {"x": {"datum": 49.5, "type": "quantitative"}, "y": {"field": "v", "type": "quantitative"}, "text": {"field": "t"}}},
    {"data": {"name": "rpvref"}, "transform": [{"filter": "datum.k == 'b'"}], "mark": {"type": "text", "dy": 17, "fontStyle": "italic", "fontWeight": "bold", "fontSize": 12.7, "color": "#222", "font": "Liberation Sans"}, "encoding": {"x": {"datum": 49.5, "type": "quantitative"}, "y": {"field": "v", "type": "quantitative"}, "text": {"field": "t"}}},
    {"data": {"name": "boxR"}, "mark": {"type": "rect", "filled": false, "stroke": "black", "strokeWidth": 4.5}, "encoding": {"x": {"datum": -10.33, "type": "quantitative"}, "x2": {"datum": 8.29}, "y": {"datum": 1067, "type": "quantitative"}, "y2": {"datum": 485.8}}},
    {"data": {"name": "boxR"}, "mark": {"type": "text", "fontSize": 44, "font": "Liberation Sans", "color": "black"}, "encoding": {"x": {"datum": -1.02, "type": "quantitative"}, "y": {"datum": 716, "type": "quantitative"}, "text": {"field": "t"}}}
   ]}
], "spacing": 17, "resolve": {"scale": {"fill": "independent", "stroke": "independent", "shape": "independent", "strokeDash": "independent"}, "legend": {"fill": "independent", "stroke": "independent", "shape": "independent", "strokeDash": "independent"}}},
{"hconcat": [
  {"width": 652, "height": 370, "view": {"stroke": "#111", "strokeWidth": 1.4, "fill": "white"},
   "resolve": {"scale": {"fill": "independent", "stroke": "independent", "shape": "independent", "strokeDash": "independent"}, "legend": {"fill": "independent", "stroke": "independent", "shape": "independent", "strokeDash": "independent"}},
   "layer": [
    {"data": {"name": "c2"}, "transform": [{"filter": "datum.g != 'n'"}], "mark": {"type": "area", "color": "#c9c9c9", "clip": true},
     "encoding": {
      "x": {"field": "w", "type": "quantitative", "scale": {"domain": [-2.06, 53.25], "nice": false, "zero": false},
        "axis": {"values": [0,4,8,12,16,20,24,28,32,36,40,44,48,52], "tickCount": 20, "title": "初回筋肉内投与からの経過期間（週）", "domain": false, "grid": false, "tickColor": "#222", "tickSize": 7, "tickWidth": 1.2, "offset": 2, "labelFontSize": 14.5, "labelColor": "#222", "labelPadding": 11, "labelOverlap": false, "titleFontSize": 22, "titleColor": "#555", "titlePadding": 19, "titleX": 354}},
      "y": {"field": "lo", "type": "quantitative", "scale": {"type": "log", "domain": [0.0179, 42.9], "nice": false},
        "axis": {"values": [0.025,0.1,0.2,0.5,1,2,5,10,20], "format": "~g", "title": "血漿中CAB濃度（μg/mL）", "domain": false, "grid": false, "tickColor": "#222", "tickSize": 9, "tickWidth": 1.2, "labelFontSize": 16, "labelColor": "#222", "labelPadding": 9, "titleFontSize": 21.5, "titleColor": "#3a3a3a", "titlePadding": 10, "titleY": 169}},
      "y2": {"field": "hi"},
      "detail": {"field": "s", "type": "nominal"}}},
    {"data": {"name": "c2o"}, "mark": {"type": "area", "color": "#e6e6e6"}, "encoding": {"x": {"field": "w", "type": "quantitative"}, "y": {"field": "plo", "type": "quantitative"}, "y2": {"field": "phi"}}},
    {"data": {"name": "c2"}, "transform": [{"filter": "datum.g != 'o'"}], "mark": {"type": "line", "color": "#ff4040", "strokeDash": [4, 3], "strokeWidth": 1.3, "clip": true}, "encoding": {"x": {"field": "w", "type": "quantitative"}, "y": {"field": "lo", "type": "quantitative"}}},
    {"data": {"name": "c2"}, "transform": [{"filter": "datum.g != 'o'"}], "mark": {"type": "line", "color": "#ff4040", "strokeDash": [4, 3], "strokeWidth": 1.3, "clip": true}, "encoding": {"x": {"field": "w", "type": "quantitative"}, "y": {"field": "hi", "type": "quantitative"}}},
    {"data": {"name": "c2"}, "transform": [{"filter": "datum.g != 'o'"}], "mark": {"type": "line", "color": "#ff1a1a", "strokeWidth": 1.6}, "encoding": {"x": {"field": "w", "type": "quantitative"}, "y": {"field": "md", "type": "quantitative"}}},
    {"data": {"name": "c2"}, "transform": [{"filter": "datum.g != 'n'"}], "mark": {"type": "line", "color": "#1a0505", "strokeWidth": 1.9}, "encoding": {"x": {"field": "w", "type": "quantitative"}, "y": {"field": "md", "type": "quantitative"}, "detail": {"field": "s", "type": "nominal"}}},
    {"data": {"name": "c2o"}, "mark": {"type": "area", "color": "black"}, "encoding": {"x": {"field": "w", "type": "quantitative"}, "y": {"field": "blo", "type": "quantitative"}, "y2": {"field": "bhi"}}},
    {"data": {"name": "cabref"}, "transform": [{"filter": "datum.k == 'a'"}], "mark": {"type": "rule", "color": "#111", "strokeWidth": 1.3, "strokeDash": [5, 2.5, 1.5, 2.5]}, "encoding": {"y": {"field": "v", "type": "quantitative"}}},
    {"data": {"name": "cabref"}, "transform": [{"filter": "datum.k == 'b'"}], "mark": {"type": "rule", "color": "#111", "strokeWidth": 1.3, "strokeDash": [6, 3.5]}, "encoding": {"y": {"field": "v", "type": "quantitative"}}},
    {"data": {"name": "cabref"}, "transform": [{"filter": "datum.k == 'c'"}], "mark": {"type": "rule", "color": "#111", "strokeWidth": 1.3, "strokeDash": [1.5, 3]}, "encoding": {"y": {"field": "v", "type": "quantitative"}}},
    {"data": {"name": "cabref"}, "mark": {"type": "text", "dy": 13.5, "fontStyle": "italic", "fontSize": 14.5, "color": "#333", "font": "Liberation Sans"}, "encoding": {"x": {"datum": 45.4, "type": "quantitative"}, "y": {"field": "v", "type": "quantitative"}, "text": {"field": "t"}}},
    {"data": {"name": "legA"}, "transform": [{"filter": "false"}], "mark": {"type": "point", "filled": true, "opacity": 1},
     "encoding": {
      "fill": {"field": "k", "type": "nominal", "scale": {"domain": ["OB: median", "OB: 90% PI"], "range": ["transparent", "#c8c8c8"]}, "legend": {"orient": "bottom-left", "offset": 0, "title": null, "padding": 11, "rowPadding": 0, "strokeColor": "#222", "fillColor": "white", "symbolSize": 100, "symbolStrokeWidth": 1.8, "labelFontSize": 18.5, "labelColor": "#111", "labelOffset": 24.5, "labelFont": "Liberation Sans", "cornerRadius": 0, "labelLimit": 300}},
      "stroke": {"field": "k", "type": "nominal", "scale": {"domain": ["OB: median", "OB: 90% PI"], "range": ["#111", "#c8c8c8"]}, "legend": {"orient": "bottom-left", "offset": 0, "title": null, "padding": 11, "rowPadding": 0, "strokeColor": "#222", "fillColor": "white", "symbolSize": 100, "symbolStrokeWidth": 1.8, "labelFontSize": 18.5, "labelColor": "#111", "labelOffset": 24.5, "labelFont": "Liberation Sans", "cornerRadius": 0, "labelLimit": 300}},
      "shape": {"field": "k", "type": "nominal", "scale": {"domain": ["OB: median", "OB: 90% PI"], "range": ["M-2.85,0H3.55", "M-1.65,-1.9H2.15V1.9H-1.65Z"]}, "legend": {"orient": "bottom-left", "offset": 0, "title": null, "padding": 11, "rowPadding": 0, "strokeColor": "#222", "fillColor": "white", "symbolSize": 100, "symbolStrokeWidth": 1.8, "labelFontSize": 18.5, "labelColor": "#111", "labelOffset": 24.5, "labelFont": "Liberation Sans", "cornerRadius": 0, "labelLimit": 300}}}},
    {"data": {"name": "legB"}, "transform": [{"filter": "false"}], "mark": {"type": "point", "filled": false, "opacity": 1},
     "encoding": {
      "stroke": {"field": "k", "type": "nominal", "scale": {"domain": ["No OB: median", "No OB: 90% PI"], "range": ["#ff1a1a", "#ff3030"]}, "legend": {"orient": "bottom-right", "offset": 0, "title": null, "padding": 11, "rowPadding": 0, "strokeColor": "#222", "fillColor": "white", "symbolSize": 100, "symbolType": "M-0.91,0H5.75", "symbolStrokeWidth": 1.6, "labelFontSize": 18.5, "labelColor": "#ff1a1a", "labelOffset": 36.2, "labelFont": "Liberation Sans", "cornerRadius": 0, "labelLimit": 300}},
      "strokeDash": {"field": "k", "type": "nominal", "scale": {"domain": ["No OB: median", "No OB: 90% PI"], "range": [[1, 0], [7, 5.5]]}, "legend": {"orient": "bottom-right", "offset": 0, "title": null, "padding": 11, "rowPadding": 0, "strokeColor": "#222", "fillColor": "white", "symbolSize": 100, "symbolType": "M-0.91,0H5.75", "symbolStrokeWidth": 1.6, "labelFontSize": 18.5, "labelColor": "#ff1a1a", "labelOffset": 36.2, "labelFont": "Liberation Sans", "cornerRadius": 0, "labelLimit": 300}}}}
   ]},
  {"vconcat": [
   {"width": 1, "height": 1, "data": {"name": "boxR"}, "transform": [{"filter": "false"}], "mark": "point"},
   {"width": 395, "height": 368, "view": {"fill": "#ebebeb", "stroke": null},
   "layer": [
    {"data": {"name": "gx"}, "mark": {"type": "rule", "color": "white", "strokeWidth": 1.3},
     "encoding": {"x": {"field": "v", "type": "quantitative", "scale": {"domain": [-2.65, 54.5], "nice": false, "zero": false},
        "axis": {"values": [0,4,8,12,16,20,24,28,32,36,40,44,48,52], "tickCount": 20, "title": "初回筋肉内投与からの経過期間（週）", "domain": false, "grid": false, "tickColor": "#555", "tickSize": 3, "labelFontSize": 13, "labelColor": "#555", "labelPadding": 4, "labelOverlap": false, "labelFlush": false, "titleFontSize": 22, "titleColor": "#555", "titlePadding": 24}}}},
    {"data": {"name": "gy"}, "mark": {"type": "rule", "color": "white", "strokeWidth": 1.3},
     "encoding": {"y": {"field": "v", "type": "quantitative", "scale": {"type": "log", "domain": [5.03, 400.5], "nice": false},
        "axis": {"values": [10, 50, 100, 200, 400], "domain": false, "grid": false, "tickColor": "#555", "tickSize": 3, "labelFontSize": 14.5, "labelColor": "#555", "labelPadding": 2, "title": "血漿中RPV濃度（ng/mL）", "titleFontSize": 21.5, "titleColor": "#222", "titlePadding": 10, "titleY": 156}}}},
    {"data": {"name": "r2"}, "mark": {"type": "area", "color": "black", "opacity": 0.2}, "encoding": {"x": {"field": "w", "type": "quantitative"}, "y": {"field": "lo", "type": "quantitative"}, "y2": {"field": "hi"}}},
    {"data": {"name": "r2"}, "transform": [{"filter": "isValid(datum.md)"}], "mark": {"type": "line", "color": "#1e1e1e", "strokeWidth": 1.6}, "encoding": {"x": {"field": "w", "type": "quantitative"}, "y": {"field": "md", "type": "quantitative"}, "detail": {"field": "s", "type": "nominal"}}},
    {"data": {"name": "r2o"}, "mark": {"type": "area", "color": "black"}, "encoding": {"x": {"field": "w", "type": "quantitative"}, "y": {"field": "blo", "type": "quantitative"}, "y2": {"field": "bhi"}}},
    {"data": {"name": "rpvref"}, "transform": [{"filter": "datum.k == 'a'"}], "mark": {"type": "rule", "color": "#222", "strokeWidth": 2.3, "strokeDash": [0.1, 10.5], "strokeCap": "round"}, "encoding": {"y": {"field": "v", "type": "quantitative"}}},
    {"data": {"name": "rpvref"}, "transform": [{"filter": "datum.k == 'b'"}], "mark": {"type": "rule", "color": "#222", "strokeWidth": 2.5, "strokeDash": [13, 5]}, "encoding": {"y": {"field": "v", "type": "quantitative"}}},
    {"data": {"name": "rpvref"}, "transform": [{"filter": "datum.k == 'a'"}], "mark": {"type": "text", "dy": -13, "fontStyle": "italic", "fontWeight": "bold", "fontSize": 12.7, "color": "#222", "font": "Liberation Sans"}, "encoding": {"x": {"datum": 49.5, "type": "quantitative"}, "y": {"field": "v", "type": "quantitative"}, "text": {"field": "t"}}},
    {"data": {"name": "rpvref"}, "transform": [{"filter": "datum.k == 'b'"}], "mark": {"type": "text", "dy": 17, "fontStyle": "italic", "fontWeight": "bold", "fontSize": 12.7, "color": "#222", "font": "Liberation Sans"}, "encoding": {"x": {"datum": 49.5, "type": "quantitative"}, "y": {"field": "v", "type": "quantitative"}, "text": {"field": "t"}}}
   ]}
  ], "spacing": -4}
], "spacing": 34, "resolve": {"scale": {"fill": "independent", "stroke": "independent", "shape": "independent", "strokeDash": "independent"}, "legend": {"fill": "independent", "stroke": "independent", "shape": "independent", "strokeDash": "independent"}}}
]
}
